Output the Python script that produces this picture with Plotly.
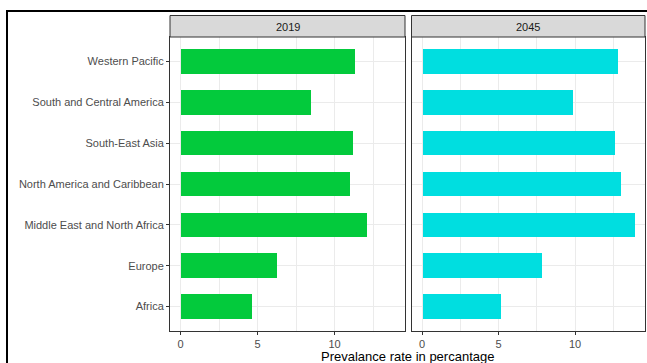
import plotly.graph_objects as go

regions = ["Africa", "Europe", "Middle East and North Africa", "North America and Caribbean",
           "South-East Asia", "South and Central America", "Western Pacific"]
prev_2019 = [4.66, 6.26, 12.1, 11.02, 11.22, 8.47, 11.32]
prev_2045 = [5.15, 7.8, 13.88, 12.98, 12.57, 9.86, 12.75]
panels = ["2019", "2045"]
x_ticks = [0, 5, 10]

W, H = 647, 363
def px(x):
    return x / W
def py(y):
    return 1 - y / H

green = "#03CA3C"
cyan = "#00DEE0"
grid = "#EBEBEB"
dark = "#333333"
tickfont = dict(family="Liberation Sans, Arial", size=11, color="#4D4D4D")

fig = go.Figure()
fig.add_trace(go.Bar(y=regions, x=prev_2019, orientation="h", width=0.6,
                     marker=dict(color=green, line=dict(width=0)), xaxis="x", yaxis="y",
                     showlegend=False, hoverinfo="x+y"))
fig.add_trace(go.Bar(y=regions, x=prev_2045, orientation="h", width=0.6,
                     marker=dict(color=cyan, line=dict(width=0)), xaxis="x2", yaxis="y2",
                     showlegend=False, hoverinfo="x+y"))

vmax = max(prev_2019 + prev_2045)
xr = [-0.05 * vmax, 1.05 * vmax]
ydom = [py(331), py(37)]

xcommon = dict(range=xr, tickvals=x_ticks, showgrid=True, gridcolor=grid, gridwidth=1,
               zeroline=False, ticks="outside", ticklen=3, tickwidth=1, tickcolor=dark,
               tickfont=tickfont, showline=True, mirror=True, linecolor=dark, linewidth=1,
               minor=dict(tickvals=[2.5, 7.5, 12.5], showgrid=True, gridcolor=grid, gridwidth=0.5, ticks=""),
               fixedrange=True)
ycommon = dict(domain=ydom, range=[-0.6, len(regions) - 0.4], categoryorder="array",
               categoryarray=regions, showgrid=True, gridcolor=grid, gridwidth=1,
               zeroline=False, showline=True, mirror=True, linecolor=dark, linewidth=1,
               fixedrange=True)

fig.update_layout(
    width=W, height=H, margin=dict(l=0, r=0, t=0, b=0),
    paper_bgcolor="white", plot_bgcolor="white",
    xaxis=dict(domain=[px(170), px(405)], anchor="y", **xcommon),
    xaxis2=dict(domain=[px(411.5), px(645)], anchor="y2", **xcommon),
    yaxis=dict(anchor="x", ticks="outside", ticklen=3, tickcolor=dark, tickfont=tickfont, **ycommon),
    yaxis2=dict(anchor="x2", showticklabels=False, ticks="", matches="y", **ycommon),
    bargap=0,
)

strips = [(170, 405), (411.5, 645)]
shapes = []
annotations = []
for (x0, x1), label in zip(strips, panels):
    shapes.append(dict(type="rect", xref="paper", yref="paper", x0=px(x0), x1=px(x1),
                       y0=py(37), y1=py(15.5), fillcolor="#D9D9D9",
                       line=dict(color=dark, width=1), layer="above"))
    annotations.append(dict(text=label, xref="paper", yref="paper", x=px((x0 + x1) / 2),
                            y=py(26.5), xanchor="center", yanchor="middle", showarrow=False,
                            font=dict(family="Liberation Sans, Arial", size=11, color="#1A1A1A")))

# outer frame
shapes.append(dict(type="rect", xref="paper", yref="paper", x0=px(7), x1=px(W + 10),
                   y0=py(H + 10), y1=py(11), line=dict(color="black", width=2),
                   fillcolor="rgba(0,0,0,0)", layer="above"))

annotations.append(dict(text="Prevalance rate in percantage", xref="paper", yref="paper",
                        x=px(407.5), y=py(356), xanchor="center", yanchor="middle", showarrow=False,
                        font=dict(family="Liberation Sans, Arial", size=13, color="black")))

fig.update_layout(shapes=shapes, annotations=annotations)
fig.write_html("out.html")
